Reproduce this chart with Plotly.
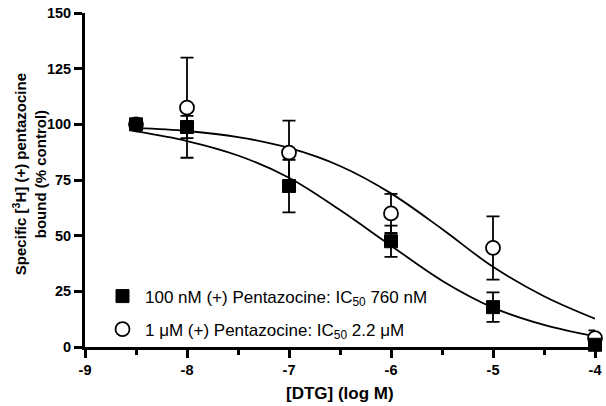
import plotly.graph_objects as go

# Data
log_dtg = [-8.5, -8, -7, -6, -5, -4]

sq_y = [100, 98.8, 72.3, 47.5, 17.9, 1]
sq_err = [1, 5, 11.8, 7, 6.6, 1.5]

ci_y = [100, 107.5, 87.3, 60, 44.5, 4]
ci_err = [1, 22.5, 14.4, 8.8, 14.2, 3.5]

curve_x = [-8.5, -8, -7.5, -7, -6.5, -6, -5.5, -5, -4.5, -4]
sq_curve = [96.8, 92.5, 86.0, 76.0, 61.5, 45.5, 29.8, 17.7, 9.9, 4.8]
ci_curve = [98.4, 97.0, 94.3, 89.4, 81.3, 69.0, 53.0, 36.0, 22.8, 12.7]

x_ticks = [-9, -8, -7, -6, -5, -4]
y_ticks = [0, 25, 50, 75, 100, 125, 150]

FONT = "Arial, Liberation Sans, sans-serif"
L, R, T, B = 85, 11, 5, 59
W, H = 606, 406
PW, PH = W - L - R, H - T - B

fig = go.Figure()

fig.add_trace(go.Scatter(x=curve_x, y=ci_curve, mode="lines", line=dict(color="black", width=1.8, shape="spline"),
                         showlegend=False, hoverinfo="skip", cliponaxis=False))
fig.add_trace(go.Scatter(x=curve_x, y=sq_curve, mode="lines", line=dict(color="black", width=1.8, shape="spline"),
                         showlegend=False, hoverinfo="skip", cliponaxis=False))

fig.add_trace(go.Scatter(
    x=log_dtg, y=ci_y, mode="markers",
    name="1 μM (+) Pentazocine: IC<sub>50</sub> 2.2 μM",
    marker=dict(symbol="circle", size=14, color="white", line=dict(color="black", width=1.8)),
    error_y=dict(type="data", array=ci_err, color="black", thickness=1.8, width=6.5),
    cliponaxis=False, legendgroup="b", legendrank=2,
))
fig.add_trace(go.Scatter(
    x=log_dtg, y=sq_y, mode="markers",
    name="100 nM (+) Pentazocine: IC<sub>50</sub> 760 nM",
    marker=dict(symbol="square", size=13, color="black", line=dict(color="black", width=1)),
    error_y=dict(type="data", array=sq_err, color="black", thickness=1.8, width=6.5),
    cliponaxis=False, legendgroup="a", legendrank=1,
))

fig.update_layout(
    width=W, height=H,
    margin=dict(l=L, r=R, t=T, b=B),
    plot_bgcolor="white", paper_bgcolor="white",
    font=dict(family=FONT, color="black"),
    legend=dict(x=(100 - L) / PW, y=0.205, xanchor="left", yanchor="top",
                font=dict(size=17, family=FONT, color="black"), itemwidth=35,
                bgcolor="rgba(0,0,0,0)", traceorder="grouped", tracegroupgap=8),
    xaxis=dict(range=[-9, -4], tickvals=x_ticks, ticktext=[str(v) for v in x_ticks],
               showgrid=False, zeroline=False, showline=True, linecolor="black", linewidth=3,
               ticks="outside", ticklen=8, tickwidth=2.5, tickcolor="black", ticklabeloverflow="allow",
               tickfont=dict(size=14.5, family=FONT, weight="bold"),
               minor=dict(dtick=0.5, tick0=-9, ticks="outside", ticklen=5, tickwidth=2.5, tickcolor="black", showgrid=False)),
    yaxis=dict(range=[0, 150], tickvals=y_ticks,
               showgrid=False, zeroline=False, showline=True, linecolor="black", linewidth=3,
               ticks="outside", ticklen=8, tickwidth=2.5, tickcolor="black", ticklabeloverflow="allow",
               tickfont=dict(size=14.5, family=FONT, weight="bold")),
    annotations=[
        dict(text="<b>Specific [<sup>3</sup>H] (+) pentazocine<br>bound (% control)</b>",
             xref="paper", yref="paper", x=(29 - L) / PW, y=(347 - 170) / PH,
             xanchor="center", yanchor="middle", textangle=-90, showarrow=False,
             font=dict(size=15, family=FONT, color="black")),
        dict(text="<b>[DTG] (log M)</b>",
             xref="paper", yref="paper", x=0.5, y=(347 - 395) / PH,
             xanchor="center", yanchor="middle", showarrow=False,
             font=dict(size=17, family=FONT, color="black")),
    ],
)

fig.write_html("out.html", config={"displayModeBar": False},
               post_script="document.body.style.margin='0px';document.body.style.overflow='hidden';")
